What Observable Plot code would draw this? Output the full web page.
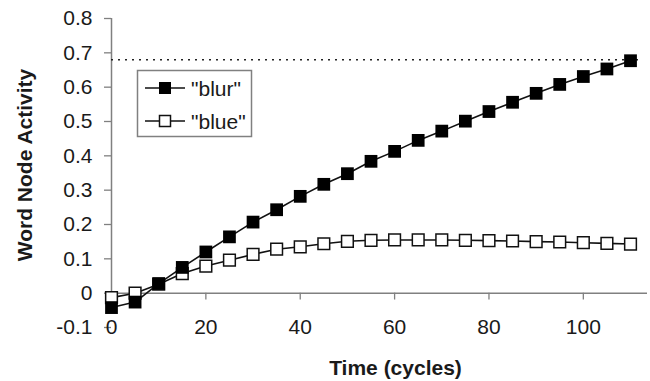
<!DOCTYPE html>
<html>
<head>
<meta charset="utf-8">
<script src="https://cdn.jsdelivr.net/npm/d3@7"></script>
<script src="https://cdn.jsdelivr.net/npm/@observablehq/plot@0.6"></script>
<style>
  html, body { margin: 0; padding: 0; background: #fff; }
  #wrap { position: relative; width: 650px; height: 381px; font-family: "Liberation Sans", Arial, sans-serif; }
  #legend { position: absolute; left: 0; top: 0; }
</style>
</head>
<body>
<div id="wrap"></div>
<script>
const cycles = [0,5,10,15,20,25,30,35,40,45,50,55,60,65,70,75,80,85,90,95,100,105,110];
const blur = [-0.042,-0.026,0.028,0.075,0.12,0.164,0.207,0.243,0.282,0.317,0.348,0.384,0.413,0.445,0.472,0.501,0.529,0.556,0.582,0.608,0.631,0.653,0.677];
const blue = [-0.013,0.0,0.026,0.057,0.079,0.096,0.113,0.128,0.135,0.144,0.151,0.154,0.155,0.155,0.155,0.154,0.153,0.152,0.150,0.149,0.147,0.145,0.143];
const seriesNames = ['"blur"', '"blue"'];
const threshold = 0.68;
const yTicks = [-0.1,0,0.1,0.2,0.3,0.4,0.5,0.6,0.7,0.8];
const xTicks = [0,20,40,60,80,100];
const xTitle = "Time (cycles)";
const yTitle = "Word Node Activity";

const rows = [];
cycles.forEach((c, i) => {
  rows.push({t: c, v: blur[i], s: seriesNames[0]});
  rows.push({t: c, v: blue[i], s: seriesNames[1]});
});
const blurRows = rows.filter(d => d.s === seriesNames[0]);
const blueRows = rows.filter(d => d.s === seriesNames[1]);

const xMax = 113.6;
const fmt = d => d === 0 ? "0" : d.toFixed(1);
const axisColor = "#808080";
const textColor = "#1a1a1a";

const chart = Plot.plot({
  width: 650, height: 381,
  marginLeft: 111, marginRight: 3, marginTop: 18, marginBottom: 54,
  style: {fontFamily: '"Liberation Sans", Arial, sans-serif', background: "#fff", overflow: "visible"},
  x: {domain: [0, xMax], axis: null},
  y: {domain: [-0.1, 0.8], axis: null},
  marks: [
    Plot.axisY({ticks: yTicks, tickSize: 7, tickPadding: 12, tickFormat: fmt, fontSize: 21, stroke: axisColor, strokeWidth: 1.3, fill: textColor, label: null}),
    Plot.ruleX([0], {y1: 0, y2: 0.8, stroke: axisColor, strokeWidth: 1.5}),
    Plot.ruleY([0], {x1: 0, x2: xMax, stroke: axisColor, strokeWidth: 1.5}),
    Plot.ruleX(xTicks, {x: d => d, y1: 0, y2: -0.02, stroke: axisColor, strokeWidth: 1.3}),
    Plot.text(xTicks, {x: d => d, y: -0.1, text: d => String(d), fontSize: 21, fill: textColor}),
    Plot.ruleY([threshold], {x1: 0, x2: 112, stroke: "#222", strokeWidth: 1.5, strokeDasharray: "2,5"}),
    Plot.line(blueRows, {x: "t", y: "v", stroke: "#111", strokeWidth: 1.6}),
    Plot.line(blurRows, {x: "t", y: "v", stroke: "#111", strokeWidth: 1.6}),
    Plot.dot(blueRows, {x: "t", y: "v", symbol: "square", r: 6.6, fill: "#fff", stroke: "#111", strokeWidth: 1.5}),
    Plot.dot(blurRows, {x: "t", y: "v", symbol: "square", r: 7.2, fill: "#000", stroke: "none"}),
    Plot.text([xTitle], {frameAnchor: "bottom", text: d => d, textAnchor: "middle", lineAnchor: "middle", dx: 16, dy: 41, fontSize: 21, fontWeight: "bold", fill: textColor}),
    Plot.text([yTitle], {frameAnchor: "left", text: d => d, textAnchor: "middle", lineAnchor: "middle", rotate: -90, dx: -86, dy: -8, fontSize: 21, fontWeight: "bold", fill: textColor})
  ]
});
document.getElementById("wrap").appendChild(chart);

// legend overlay
const lg = d3.select("#wrap").append("svg").attr("id", "legend").attr("width", 650).attr("height", 381);
lg.append("rect").attr("x", 137.5).attr("y", 70.5).attr("width", 114).attr("height", 66)
  .attr("fill", "#fff").attr("stroke", axisColor).attr("stroke-width", 1.5);
seriesNames.forEach((name, i) => {
  const cy = 88 + i * 33;
  const g = lg.append("g");
  g.append("line").attr("x1", 145).attr("x2", 185).attr("y1", cy).attr("y2", cy).attr("stroke", "#111").attr("stroke-width", 1.6);
  if (i === 0) {
    g.append("rect").attr("x", 159).attr("y", cy - 6).attr("width", 12).attr("height", 12).attr("fill", "#000");
  } else {
    g.append("rect").attr("x", 159.5).attr("y", cy - 5.5).attr("width", 11).attr("height", 11).attr("fill", "#fff").attr("stroke", "#111").attr("stroke-width", 1.5);
  }
  g.append("text").attr("x", 191).attr("y", cy).attr("dy", "0.36em").attr("font-size", 21)
    .attr("font-family", '"Liberation Sans", Arial, sans-serif').attr("fill", textColor).text(name);
});
</script>
</body>
</html>
